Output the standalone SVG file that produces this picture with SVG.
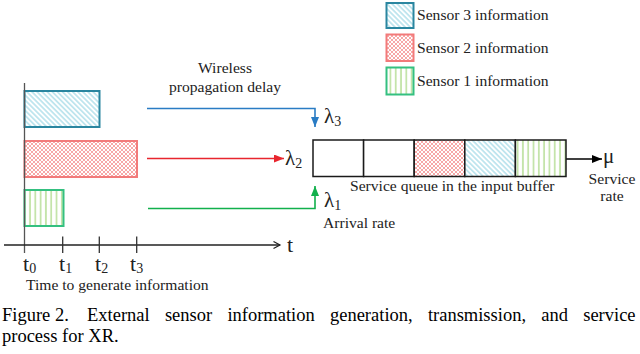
<svg xmlns="http://www.w3.org/2000/svg" width="640" height="354" viewBox="0 0 640 354">
<defs>
<pattern id="pDiag" patternUnits="userSpaceOnUse" width="3.6" height="3.6" patternTransform="rotate(-45)">
<rect width="3.6" height="3.6" fill="#ffffff"/>
<line x1="0.9" y1="0" x2="0.9" y2="3.6" stroke="#a6dbe8" stroke-width="1.3"/>
</pattern>
<pattern id="pCross" patternUnits="userSpaceOnUse" width="4" height="4">
<rect width="4" height="4" fill="#ffffff"/>
<path d="M0,0 L4,4 M4,0 L0,4" stroke="#f7a8a8" stroke-width="1"/>
</pattern>
<pattern id="pVert" patternUnits="userSpaceOnUse" width="5.3" height="10">
<rect width="5.3" height="10" fill="#ffffff"/>
<line x1="3.5" y1="0" x2="3.5" y2="10" stroke="#c4e4aa" stroke-width="1.8"/>
</pattern>
<marker id="mBlue" markerUnits="userSpaceOnUse" markerWidth="10" markerHeight="8" refX="10" refY="4" orient="auto"><path d="M0,0 L10,4 L0,8 z" fill="#2a7cc4"/></marker>
<marker id="mRed" markerUnits="userSpaceOnUse" markerWidth="10" markerHeight="8" refX="10" refY="4" orient="auto"><path d="M0,0 L10,4 L0,8 z" fill="#e8262e"/></marker>
<marker id="mGreen" markerUnits="userSpaceOnUse" markerWidth="10" markerHeight="8" refX="10" refY="4" orient="auto"><path d="M0,0 L10,4 L0,8 z" fill="#12b04c"/></marker>
<marker id="mBlack" markerUnits="userSpaceOnUse" markerWidth="10" markerHeight="8" refX="10" refY="4" orient="auto"><path d="M0,0 L10,4 L0,8 z" fill="#000000"/></marker>
<marker id="mOpen" markerUnits="userSpaceOnUse" markerWidth="9" markerHeight="9" refX="7.5" refY="4" orient="auto"><path d="M1,0.5 L7.5,4 L1,7.5" fill="none" stroke="#222222" stroke-width="1.2"/></marker>
</defs>
<style>
text{font-family:"Liberation Serif","Times New Roman",serif;fill:#222222;}
.lbl{font-size:15.6px;}
.big{font-size:21px;}
.tt{font-size:22px;}
.sub{font-size:14px;}
.cap{font-size:18.5px;fill:#000000;}
.s3{fill:url(#pDiag);stroke:#2a86a0;stroke-width:2;}
.s2{fill:url(#pCross);stroke:#f27a7a;stroke-width:2;}
.s1{fill:url(#pVert);stroke:#34c080;stroke-width:2;}
.cell{stroke:#1a1a1a;stroke-width:1.5;}
.conn{fill:none;stroke-width:1.6;}
</style>
<rect width="640" height="354" fill="#ffffff"/>

<g id="legend">
<g id="legend-s3"><rect class="s3" x="386.5" y="3" width="27" height="25"/><text class="lbl" x="417" y="20">Sensor 3 information</text></g>
<g id="legend-s2"><rect class="s2" x="386.5" y="34.5" width="27" height="26.5"/><text class="lbl" x="417" y="53">Sensor 2 information</text></g>
<g id="legend-s1"><rect class="s1" x="386.5" y="67.5" width="27" height="27"/><text class="lbl" x="417" y="85.5">Sensor 1 information</text></g>
</g>

<g id="sensor3"><rect class="s3" x="24.5" y="91" width="75" height="36"/></g>
<g id="sensor2"><rect class="s2" x="24.5" y="141" width="112.5" height="36"/></g>
<g id="sensor1"><rect class="s1" x="24.5" y="190" width="39" height="36"/></g>

<g id="time-axis">
<line x1="24.5" y1="83" x2="24.5" y2="253" stroke="#555555" stroke-width="1.3"/>
<line x1="4" y1="245" x2="280" y2="245" stroke="#222222" stroke-width="1.3" marker-end="url(#mOpen)"/>
<line x1="62.7" y1="236.5" x2="62.7" y2="253" stroke="#333333" stroke-width="1.3"/>
<line x1="99.3" y1="236.5" x2="99.3" y2="253" stroke="#333333" stroke-width="1.3"/>
<line x1="136.7" y1="236.5" x2="136.7" y2="253" stroke="#333333" stroke-width="1.3"/>
<text class="tt" x="287" y="252">t</text>
<text class="tt" x="23" y="271">t<tspan class="sub" dy="2">0</tspan></text>
<text class="tt" x="59" y="271">t<tspan class="sub" dy="2">1</tspan></text>
<text class="tt" x="95" y="271">t<tspan class="sub" dy="2">2</tspan></text>
<text class="tt" x="130" y="271">t<tspan class="sub" dy="2">3</tspan></text>
<text class="lbl" x="26" y="290">Time to generate information</text>
</g>

<g id="connectors">
<path class="conn" d="M147,108.5 H315 V127" stroke="#2a7cc4" marker-end="url(#mBlue)"/>
<path class="conn" d="M147,158.5 H284" stroke="#e8262e" marker-end="url(#mRed)"/>
<path class="conn" d="M148,208.5 H315 V186" stroke="#12b04c" marker-end="url(#mGreen)"/>
<path class="conn" d="M566,159 H602" stroke="#000000" marker-end="url(#mBlack)"/>
</g>

<g id="delay-label">
<text class="lbl" x="225" y="72.5" text-anchor="middle">Wireless</text>
<text class="lbl" x="225" y="92" text-anchor="middle">propagation delay</text>
</g>

<g id="lambdas">
<text class="big" x="324" y="123">λ<tspan class="sub" dy="3">3</tspan></text>
<text class="big" x="285" y="165">λ<tspan class="sub" dy="3">2</tspan></text>
<text class="big" x="324" y="207">λ<tspan class="sub" dy="3">1</tspan></text>
<text class="lbl" x="323" y="228">Arrival rate</text>
</g>

<g id="queue">
<rect class="cell" x="313" y="140" width="50.6" height="36.5" fill="#ffffff"/>
<rect class="cell" x="363.6" y="140" width="50.6" height="36.5" fill="#ffffff"/>
<rect class="cell" x="414.2" y="140" width="50.6" height="36.5" fill="url(#pCross)"/>
<rect class="cell" x="464.8" y="140" width="50.6" height="36.5" fill="url(#pDiag)"/>
<rect class="cell" x="515.4" y="140" width="50.6" height="36.5" fill="url(#pVert)"/>
<text class="lbl" x="350" y="191">Service queue in the input buffer</text>
</g>

<g id="service">
<text class="big" x="603" y="163">μ</text>
<text class="lbl" x="612" y="184" text-anchor="middle">Service</text>
<text class="lbl" x="612" y="201" text-anchor="middle">rate</text>
</g>

<g id="caption">
<text class="cap" x="2" y="321">Figure 2.</text>
<text class="cap" x="87" y="321" word-spacing="10.6">External sensor information generation, transmission, and service</text>
<text class="cap" x="2" y="342">process for XR.</text>
</g>
</svg>
